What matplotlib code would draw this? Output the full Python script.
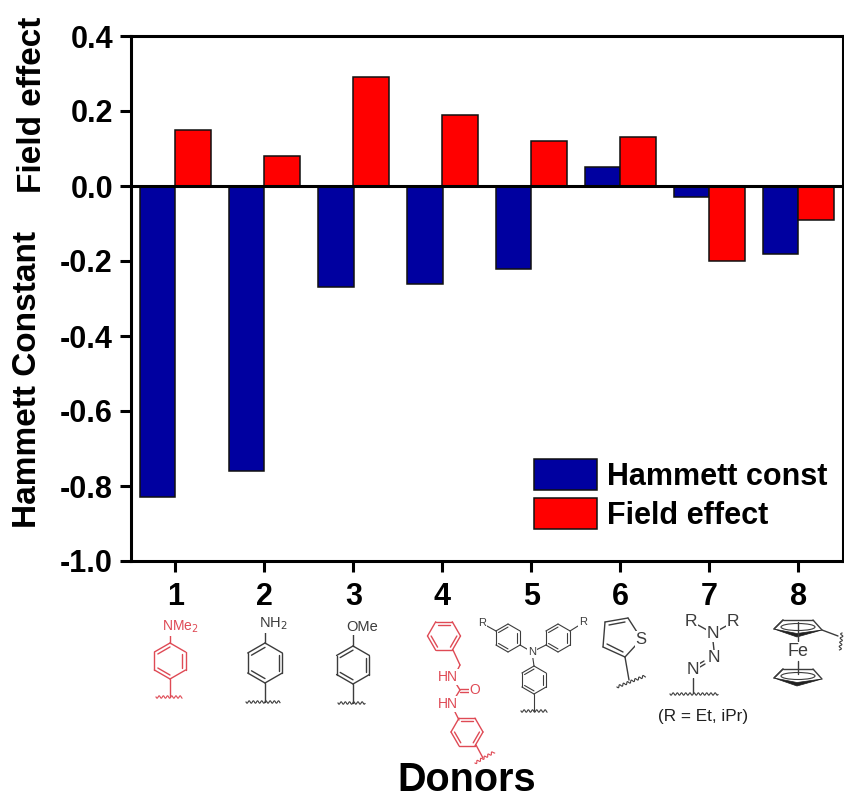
import numpy as np
import matplotlib
matplotlib.use('Agg')
import matplotlib.pyplot as plt
from matplotlib.patches import Ellipse, Polygon

plt.rcParams['font.family'] = ['Liberation Sans', 'DejaVu Sans']

donors = ['1', '2', '3', '4', '5', '6', '7', '8']
hammett = [-0.83, -0.76, -0.27, -0.26, -0.22, 0.05, -0.03, -0.18]
field = [0.15, 0.08, 0.29, 0.19, 0.12, 0.13, -0.20, -0.09]
y_ticks = [-1.0, -0.8, -0.6, -0.4, -0.2, 0.0, 0.2, 0.4]

BLUE = '#0000a0'
RED = '#ff0000'
CHEM_RED = '#df4a55'
CHEM_BLACK = '#3c3c3c'

W, H = 845, 800
fig = plt.figure(figsize=(W / 100, H / 100), dpi=100)
ax = fig.add_axes([131 / W, 1 - 561 / H, (843 - 131) / W, (561 - 36) / H])

# Столбцы
x = np.arange(1, len(donors) + 1)
bar_w = 0.404
ax.bar(x - bar_w / 2, hammett, bar_w, color=BLUE, edgecolor='#101010', linewidth=1.1, label='Hammett const')
ax.bar(x + bar_w / 2, field, bar_w, color=RED, edgecolor='#101010', linewidth=1.1, label='Field effect')
ax.axhline(0, color='black', linewidth=2.2, zorder=5)

ax.set_xlim(0.5, 8.5)
ax.set_ylim(-1.0, 0.4)
ax.set_xticks(x)
ax.set_xticklabels(donors)
ax.set_yticks(y_ticks)
ax.set_yticklabels([f'{v:.1f}' for v in y_ticks])
ax.tick_params(axis='both', direction='out', length=8, width=2.2, labelsize=22, pad=5)
ax.tick_params(axis='x', pad=7)
for lab in ax.get_xticklabels() + ax.get_yticklabels():
    lab.set_fontweight('bold')
for s in ax.spines.values():
    s.set_linewidth(2.2)

leg = ax.legend(loc='lower left', bbox_to_anchor=(0.5656, 0.058), frameon=False,
                prop={'weight': 'bold', 'size': 22}, borderpad=0, borderaxespad=0,
                handlelength=2.06, handleheight=1.185, handletextpad=0.33, labelspacing=0.2)

# Подписи осей
fig.text(33 / W, 1 - 105 / H, 'Field effect', rotation=90, ha='center', va='center',
         fontsize=24, fontweight='bold')
fig.text(28 / W, 1 - 379 / H, 'Hammett Constant', rotation=90, ha='center', va='center',
         fontsize=24, fontweight='bold')
fig.text(467 / W, 1 - 791 / H, 'Donors', ha='center', va='baseline', fontsize=28.5, fontweight='bold')

# Структуры доноров рисуются поверх в пиксельных координатах
chem = fig.add_axes([0, 0, 1, 1], facecolor='none')
chem.set_xlim(0, W)
chem.set_ylim(H, 0)
chem.axis('off')


def bond(p, q, c=CHEM_BLACK, lw=1.0):
    chem.plot([p[0], q[0]], [p[1], q[1]], color=c, lw=lw, solid_capstyle='round')


def label(px, py, s, c=CHEM_BLACK, size=9.5):
    chem.text(px, py, s, color=c, fontsize=size, ha='center', va='center',
              bbox=dict(facecolor='white', edgecolor='none', pad=0.4))


def ring(cx, cy, r, c=CHEM_BLACK, pointy=True, lw=1.0):
    start = 90 if pointy else 0
    angs = np.radians(start + np.arange(6) * 60)
    pts = [(cx + r * np.cos(a), cy + r * np.sin(a)) for a in angs]
    for i in range(6):
        bond(pts[i], pts[(i + 1) % 6], c, lw)
    # внутренние двойные связи
    for i in (0, 2, 4):
        p, q = pts[i], pts[(i + 1) % 6]
        pi = (cx + (p[0] - cx) * 0.78, cy + (p[1] - cy) * 0.78)
        qi = (cx + (q[0] - cx) * 0.78, cy + (q[1] - cy) * 0.78)
        bond(pi, qi, c, lw)


def squiggle(p, q, c=CHEM_BLACK, waves=None):
    p, q = np.array(p, float), np.array(q, float)
    d = q - p
    n = np.array([-d[1], d[0]]) / np.hypot(*d)
    if waves is None:
        waves = np.hypot(*d) / 4.2
    t = np.linspace(0, 1, 120)
    pts = p + np.outer(t, d) + np.outer(1.2 * np.sin(2 * np.pi * waves * t), n)
    chem.plot(pts[:, 0], pts[:, 1], color=c, lw=0.8)


# 1
bond((170, 643), (170, 633), CHEM_RED)
ring(170, 661, 18, CHEM_RED)
bond((170, 679), (170, 697), CHEM_RED)
squiggle((156, 697), (182, 697), CHEM_RED)
label(180, 627, 'NMe$_2$', CHEM_RED, 10)

# 2
bond((265, 643), (265, 632))
ring(265, 663, 20)
bond((265, 683), (265, 702))
squiggle((246, 702), (280, 702))
label(273, 624, 'NH$_2$', size=10.5)

# 3
bond((353, 646), (353, 634))
ring(353, 665, 19)
bond((353, 684), (353, 703))
squiggle((338, 703), (365, 703))
label(362, 627, 'OMe', size=10.5)

# 4
ring(444, 636, 16.5, CHEM_RED, pointy=False)
bond((453, 650), (460, 665), CHEM_RED)
bond((460, 665), (455, 675), CHEM_RED)
bond((455, 682), (460, 690), CHEM_RED)
bond((460, 689), (470, 689), CHEM_RED)
bond((460, 691.5), (470, 691.5), CHEM_RED)
bond((460, 690), (455, 698), CHEM_RED)
bond((453, 708), (459, 720), CHEM_RED)
ring(467, 732, 16, CHEM_RED, pointy=False)
bond((476, 745), (483, 758), CHEM_RED)
squiggle((475, 763), (494, 752), CHEM_RED)
label(448, 677, 'HN', CHEM_RED, 10)
label(475, 690, 'O', CHEM_RED, 10)
label(448, 704, 'HN', CHEM_RED, 10)

# 5
ring(508, 638, 14, lw=0.8)
ring(558, 638, 14, lw=0.8)
ring(534, 680, 14, lw=0.8)
bond((520, 645), (532, 652), lw=0.8)
bond((546, 645), (532, 652), lw=0.8)
bond((532, 652), (534, 666), lw=0.8)
bond((534, 694), (534, 711), lw=0.8)
bond((496, 631), (487, 626), lw=0.8)
bond((570, 631), (578, 626), lw=0.8)
squiggle((521, 711), (547, 711))
label(532, 652, 'N', size=8)
label(482, 623, 'R', size=8)
label(583, 622, 'R', size=8)

# 6
bond((605, 622), (628, 618))
bond((609, 625), (625, 622))
bond((605, 622), (603, 647))
bond((603, 647), (625, 657))
bond((607, 644), (623, 652))
bond((628, 618), (637, 632))
bond((625, 657), (636, 645))
bond((625, 657), (629, 680))
squiggle((617, 687), (645, 676))
label(641, 639, 'S', size=12)

# 7
bond((698, 625), (707, 630))
bond((728, 625), (719, 630))
bond((713, 641), (714, 650))
bond((705, 664), (700, 667))
bond((704, 661), (699, 664))
bond((693, 678), (693, 693))
squiggle((670, 694), (718, 694))
label(691, 622, 'R', size=12.5)
label(733, 622, 'R', size=12.5)
label(713, 634, 'N', size=12.5)
label(714, 658, 'N', size=12.5)
label(693, 670, 'N', size=12.5)
chem.text(703, 717, '(R = Et, iPr)', color='#202020', fontsize=12.3, ha='center', va='center')

# 8 (ферроцен)
for dy in (0, 49):
    chem.add_patch(Ellipse((798, 627 + dy), 34, 7, fill=False, edgecolor=CHEM_BLACK, lw=0.8))
    top = [(774, 629 + dy), (783, 620 + dy), (813, 620 + dy), (822, 630 + dy), (797, 637 + dy)]
    for i in range(3):
        bond(top[i], top[i + 1], lw=1.0)
    chem.add_patch(Polygon([(822, 630 + dy), (797, 637 + dy), (774, 629 + dy), (797, 633.5 + dy)],
                           closed=True, facecolor='#202020', edgecolor='#202020', lw=0.5))
    bond((774, 629 + dy), (783, 620 + dy), lw=1.0)
bond((798, 622), (798, 641))
bond((798, 661), (798, 674))
bond((822, 630), (838, 636))
squiggle((842, 633), (840, 650))
label(798, 651, 'Fe', size=13)

fig.savefig('out.png', dpi=100, facecolor='white')
